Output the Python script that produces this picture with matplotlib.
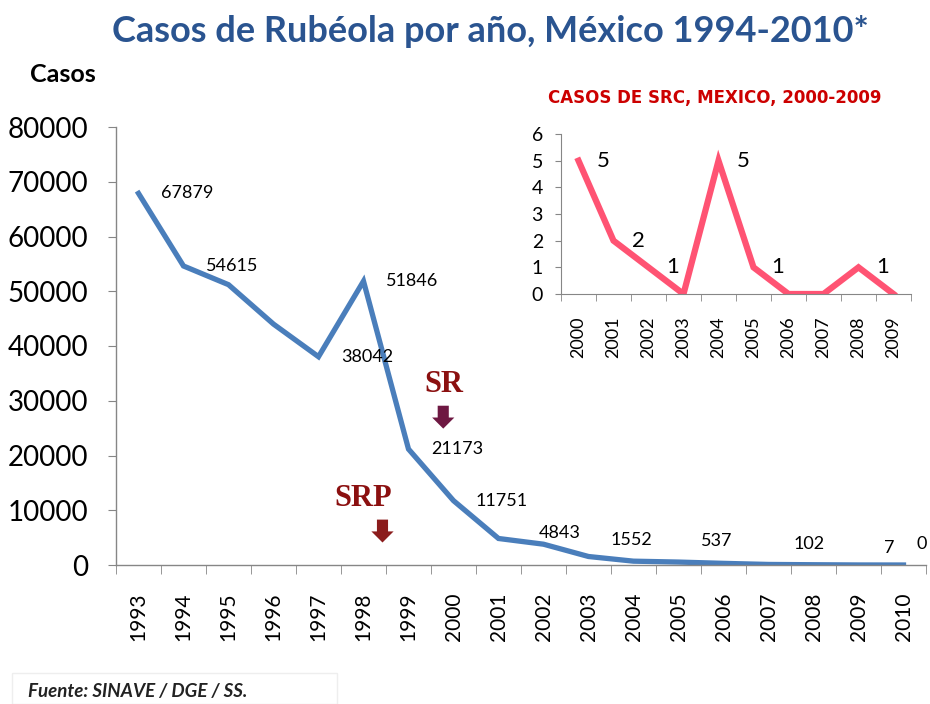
# Casos de rubéola por año en México, con recuadro de casos de SRC
import matplotlib
matplotlib.use('Agg')
import matplotlib.pyplot as plt
from matplotlib.patches import Rectangle

# datos principales
anios = [1993, 1994, 1995, 1996, 1997, 1998, 1999, 2000, 2001,
         2002, 2003, 2004, 2005, 2006, 2007, 2008, 2009, 2010]
casos = [67879, 54615, 51200, 44000, 38042, 51846, 21173, 11751, 4843,
         3800, 1552, 700, 537, 300, 102, 50, 7, 0]
anios_etiqueta = [1993, 1994, 1997, 1998, 1999, 2000, 2001, 2003, 2005, 2007, 2009, 2010]
yticks_main = [0, 10000, 20000, 30000, 40000, 50000, 60000, 70000, 80000]

# datos del recuadro (SRC)
anios_src = [2000, 2001, 2002, 2003, 2004, 2005, 2006, 2007, 2008, 2009]
casos_src = [5, 2, 1, 0, 5, 1, 0, 0, 1, 0]
anios_src_etiqueta = [2000, 2001, 2002, 2004, 2005, 2008]

# desplazamiento (en puntos) de las etiquetas que quedan sobre la línea
desp_etiqueta = {2001: (29, 4), 2003: (16, 12), 2005: (16, 15), 2007: (18, 15),
                 2009: (18, 12), 2010: (9, 15)}

AZUL = '#4A7EBB'
ROSA = '#FF5373'
GRIS = '#868686'

plt.rcParams['font.family'] = ['Lato', 'DejaVu Sans']

fig = plt.figure(figsize=(9.3, 7.04), dpi=100)

# ---- gráfico principal ----
ax = fig.add_axes([116 / 930, 1 - 565 / 704, 810 / 930, 438 / 704])
x = list(range(len(anios)))
ax.plot(x, casos, color=AZUL, lw=3.8, solid_joinstyle='miter')
for i, (a, c) in enumerate(zip(anios, casos)):
    if a in anios_etiqueta:
        dx, dy = desp_etiqueta.get(a, (16, 0))
        ax.annotate(str(c), (i, c), xytext=(dx, dy), textcoords='offset points',
                    va='center', ha='left', fontsize=13)

ax.set_xlim(-0.5, len(anios) - 0.5)
ax.set_ylim(0, 80000)
ax.set_yticks(yticks_main)
ax.set_yticklabels([str(v) for v in yticks_main], fontsize=20)
ax.set_xticks(x)
ax.set_xticklabels([str(a) for a in anios], rotation=90, fontsize=15)
ax.set_xticks([i - 0.5 for i in range(len(anios) + 1)], minor=True)
ax.tick_params(axis='x', which='major', length=0, pad=20)
ax.tick_params(axis='x', which='minor', length=6.5, color=GRIS, direction='out')
ax.tick_params(axis='y', length=6, color=GRIS, pad=14)
for s in ['top', 'right']:
    ax.spines[s].set_visible(False)
for s in ['left', 'bottom']:
    ax.spines[s].set_color(GRIS)
    ax.spines[s].set_linewidth(1)

# anotaciones SR / SRP
flecha = 'simple,head_width=1.6,head_length=0.8,tail_width=0.8'
ax.text(0.405, 0.411, 'SR', transform=ax.transAxes, ha='center', va='center',
        fontsize=22, fontweight='bold', color='#8B1010', family='Liberation Serif')
ax.annotate('', xy=(0.404, 0.305), xytext=(0.404, 0.370), xycoords='axes fraction',
            arrowprops=dict(arrowstyle=flecha, color='#6E1842', lw=0))
ax.text(0.305, 0.151, 'SRP', transform=ax.transAxes, ha='center', va='center',
        fontsize=22, fontweight='bold', color='#8B1010', family='Liberation Serif')
ax.annotate('', xy=(0.329, 0.045), xytext=(0.329, 0.110), xycoords='axes fraction',
            arrowprops=dict(arrowstyle=flecha, color='#8B1C1C', lw=0))

# ---- recuadro SRC ----
axi = fig.add_axes([561 / 930, 1 - 294 / 704, 350 / 930, 160 / 704])
xs = list(range(len(anios_src)))
axi.plot(xs, casos_src, color=ROSA, lw=4.5, solid_joinstyle='miter')
for i, (a, c) in enumerate(zip(anios_src, casos_src)):
    if a in anios_src_etiqueta:
        axi.annotate(str(c), (i, c), xytext=(13, 0), textcoords='offset points',
                     va='center', ha='left', fontsize=16)
axi.set_xlim(-0.5, len(anios_src) - 0.5)
axi.set_ylim(0, 6)
axi.set_yticks(range(7))
axi.set_yticklabels([str(v) for v in range(7)], fontsize=14)
axi.set_xticks(xs)
axi.set_xticklabels([str(a) for a in anios_src], rotation=90, fontsize=13)
axi.set_xticks([i - 0.5 for i in range(len(anios_src) + 1)], minor=True)
axi.tick_params(axis='x', which='major', length=0, pad=16)
axi.tick_params(axis='x', which='minor', length=5, color=GRIS)
axi.tick_params(axis='y', length=4, color=GRIS, pad=9)
for s in ['top', 'right']:
    axi.spines[s].set_visible(False)
for s in ['left', 'bottom']:
    axi.spines[s].set_color(GRIS)
axi.patch.set_alpha(0)

# ---- textos ----
fig.text(490 / 930, 1 - 32 / 704, 'Casos de Rubéola por año, México 1994-2010*',
         ha='center', va='center', fontsize=26, fontweight='bold', color='#2A5490')
fig.text(30 / 930, 1 - 75 / 704, 'Casos', ha='left', va='center',
         fontsize=18, fontweight='bold', color='black')
fig.text(715 / 930, 1 - 98 / 704, 'CASOS DE SRC, MEXICO, 2000-2009', ha='center', va='center',
         fontsize=12, fontweight='bold', color='#CC0000',
         family=['Liberation Sans Narrow', 'DejaVu Sans'])
fig.text(28 / 930, 1 - 691 / 704, 'Fuente: SINAVE / DGE / SS.', ha='left', va='center',
         fontsize=13.5, style='italic', fontweight='bold', color='#222222')
fig.patches.append(Rectangle((12 / 930, 0), 325 / 930, 31 / 704, transform=fig.transFigure,
                             fill=False, edgecolor='#EEEEEE', lw=1))

fig.savefig('out.png', dpi=100)
